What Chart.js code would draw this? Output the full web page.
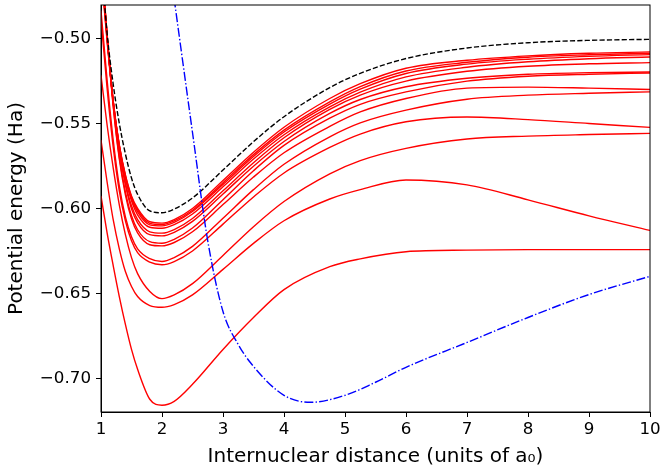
<!DOCTYPE html>
<html>
<head>
<meta charset="utf-8">
<script src="https://cdn.jsdelivr.net/npm/chart.js@4.4.0/dist/chart.umd.min.js"></script>
<style>
  html, body { margin: 0; padding: 0; background: #fff; }
  canvas { display: block; }
</style>
</head>
<body>
<canvas id="myChart" width="661" height="474"></canvas>
<script>
// internuclear distance grid (a0) shared by the curves
const rValues = [1.0, 1.1, 1.2, 1.3, 1.4, 1.5, 1.6, 1.8, 2.0, 2.2, 2.5, 3.0, 3.5, 4.0, 4.75, 5.25, 6.0, 7.0, 8.0, 9.0, 10.0];

// black dashed curve
const exact = [-0.4518, -0.4970, -0.5270, -0.5500, -0.5680, -0.5822, -0.5918, -0.6015, -0.6026, -0.6004, -0.5939, -0.5775, -0.5608, -0.5461, -0.5290, -0.5206, -0.5119, -0.5057, -0.5026, -0.5012, -0.5006];

// red curves, top to bottom
const approx1 = [-0.4601, -0.5018, -0.5375, -0.5628, -0.5804, -0.5927, -0.6000, -0.6079, -0.6087, -0.6066, -0.6001, -0.5836, -0.5670, -0.5523, -0.5354, -0.5267, -0.5176, -0.5129, -0.5103, -0.5088, -0.5080];
const approx2 = [-0.4584, -0.5006, -0.5370, -0.5628, -0.5806, -0.5933, -0.6009, -0.6088, -0.6096, -0.6074, -0.6011, -0.5849, -0.5684, -0.5540, -0.5374, -0.5284, -0.5192, -0.5141, -0.5111, -0.5097, -0.5088];
const approx3 = [-0.4566, -0.5000, -0.5370, -0.5633, -0.5815, -0.5944, -0.6021, -0.6097, -0.6103, -0.6083, -0.6019, -0.5859, -0.5695, -0.5551, -0.5387, -0.5299, -0.5207, -0.5152, -0.5123, -0.5106, -0.5096];
const approx4 = [-0.4554, -0.4994, -0.5370, -0.5639, -0.5827, -0.5956, -0.6038, -0.6111, -0.6117, -0.6096, -0.6033, -0.5873, -0.5710, -0.5567, -0.5403, -0.5317, -0.5227, -0.5170, -0.5138, -0.5120, -0.5110];
const approx5 = [-0.4543, -0.4988, -0.5375, -0.5657, -0.5850, -0.5985, -0.6067, -0.6138, -0.6146, -0.6125, -0.6060, -0.5897, -0.5732, -0.5585, -0.5418, -0.5334, -0.5252, -0.5194, -0.5164, -0.5150, -0.5143];
const approx6 = [-0.4531, -0.4982, -0.5375, -0.5663, -0.5862, -0.6003, -0.6085, -0.6155, -0.6162, -0.6141, -0.6077, -0.5916, -0.5752, -0.5607, -0.5442, -0.5360, -0.5285, -0.5235, -0.5211, -0.5202, -0.5198];
const approx7 = [-0.4519, -0.4982, -0.5393, -0.5698, -0.5903, -0.6044, -0.6126, -0.6196, -0.6205, -0.6182, -0.6116, -0.5949, -0.5779, -0.5630, -0.5470, -0.5388, -0.5315, -0.5252, -0.5223, -0.5211, -0.5204];
const approx8 = [-0.4507, -0.4977, -0.5399, -0.5710, -0.5921, -0.6062, -0.6144, -0.6214, -0.6221, -0.6201, -0.6138, -0.5978, -0.5816, -0.5673, -0.5518, -0.5433, -0.5354, -0.5293, -0.5287, -0.5293, -0.5301];
const approx9 = [-0.4836, -0.5246, -0.5598, -0.5868, -0.6050, -0.6167, -0.6238, -0.6296, -0.6313, -0.6290, -0.6224, -0.6058, -0.5890, -0.5741, -0.5579, -0.5497, -0.5422, -0.5358, -0.5334, -0.5323, -0.5315];
const approx10 = [-0.4883, -0.5293, -0.5639, -0.5897, -0.6073, -0.6191, -0.6261, -0.6317, -0.6332, -0.6313, -0.6251, -0.6093, -0.5933, -0.5792, -0.5642, -0.5563, -0.5491, -0.5463, -0.5478, -0.5501, -0.5524];
const approx11 = [-0.5217, -0.5510, -0.5762, -0.5979, -0.6155, -0.6290, -0.6384, -0.6489, -0.6531, -0.6509, -0.6443, -0.6277, -0.6108, -0.5960, -0.5797, -0.5719, -0.5647, -0.5592, -0.5575, -0.5566, -0.5559];
const approx12 = [-0.5598, -0.5845, -0.6067, -0.6238, -0.6372, -0.6460, -0.6519, -0.6572, -0.6582, -0.6566, -0.6509, -0.6359, -0.6206, -0.6073, -0.5945, -0.5890, -0.5833, -0.5862, -0.5950, -0.6044, -0.6130];
const approx13 = [-0.5927, -0.6144, -0.6337, -0.6519, -0.6683, -0.6830, -0.6947, -0.7123, -0.7158, -0.7135, -0.7035, -0.6830, -0.6642, -0.6478, -0.6343, -0.6297, -0.6255, -0.6246, -0.6243, -0.6243, -0.6243];

// blue dash-dot curve, own grid
const blueR = [2.1, 2.5, 2.75, 3.0, 3.25, 3.5, 4.0, 4.43, 5.0, 5.5, 6.0, 7.0, 8.0, 9.0, 10.0];
const blueE = [-0.4507, -0.5554, -0.6191, -0.6607, -0.6801, -0.6930, -0.7100, -0.7141, -0.7100, -0.7023, -0.6935, -0.6789, -0.6642, -0.6507, -0.6400];

const xTicks = [1, 2, 3, 4, 5, 6, 7, 8, 9, 10];
const yTicks = [-0.70, -0.65, -0.60, -0.55, -0.50];

const redCurves = [approx1, approx2, approx3, approx4, approx5, approx6, approx7,
                   approx8, approx9, approx10, approx11, approx12, approx13];

const toPoints = (xs, ys) => xs.map((x, i) => ({ x: x, y: ys[i] }));

const lineBase = {
    pointRadius: 0,
    borderWidth: 1.4,
    fill: false,
    cubicInterpolationMode: 'monotone'
};

const datasets = [
    Object.assign({}, lineBase, {
        data: toPoints(blueR, blueE),
        borderColor: '#0000ff',
        borderDash: [9, 2.2, 1.4, 2.2]
    }),
    Object.assign({}, lineBase, {
        data: toPoints(rValues, exact),
        borderColor: '#000000',
        borderDash: [5.2, 2.2]
    })
];
redCurves.forEach(vals => {
    datasets.push(Object.assign({}, lineBase, {
        data: toPoints(rValues, vals),
        borderColor: '#ff0000'
    }));
});

// top and right spines
const frame = {
    id: 'frame',
    afterDraw(chart) {
        const { ctx, chartArea } = chart;
        ctx.save();
        ctx.strokeStyle = '#000';
        ctx.lineWidth = 1;
        ctx.strokeRect(chartArea.left, chartArea.top, chartArea.right - chartArea.left, chartArea.bottom - chartArea.top);
        ctx.restore();
    }
};

const tickFont = { family: 'DejaVu Sans', size: 16.7 };
const titleFont = { family: 'DejaVu Sans', size: 20 };

new Chart(document.getElementById('myChart').getContext('2d'), {
    type: 'line',
    data: { datasets: datasets },
    plugins: [frame],
    options: {
        responsive: false,
        animation: false,
        devicePixelRatio: 1,
        layout: { padding: { left: 0, top: 5, right: 11, bottom: 0 } },
        plugins: {
            legend: { display: false },
            tooltip: { enabled: false }
        },
        scales: {
            x: {
                type: 'linear',
                min: 1,
                max: 10,
                afterBuildTicks: (scale) => { scale.ticks = xTicks.map(v => ({ value: v })); },
                afterFit: (scale) => { scale.height = 62; scale.paddingLeft = 0; scale.paddingRight = 0; },
                grid: { display: true, drawOnChartArea: false, drawTicks: true, tickLength: 5, color: '#000', lineWidth: 1 },
                border: { display: true, color: '#000', width: 1 },
                ticks: { color: '#000', font: tickFont, padding: 3, maxRotation: 0, autoSkip: false },
                title: {
                    display: true,
                    text: 'Internuclear distance (units of a\u2080)',
                    color: '#000',
                    font: titleFont,
                    padding: { top: 0, bottom: 5 }
                }
            },
            y: {
                type: 'linear',
                min: -0.7198,
                max: -0.4804,
                afterBuildTicks: (scale) => { scale.ticks = yTicks.map(v => ({ value: v })); },
                afterFit: (scale) => { scale.width = 101; scale.paddingTop = 0; scale.paddingBottom = 0; },
                grid: { display: true, drawOnChartArea: false, drawTicks: true, tickLength: 5, color: '#000', lineWidth: 1 },
                border: { display: true, color: '#000', width: 1 },
                ticks: {
                    color: '#000',
                    font: tickFont,
                    padding: 5,
                    callback: (v) => (v < 0 ? '\u2212' : '') + Math.abs(v).toFixed(2)
                },
                title: {
                    display: true,
                    text: 'Potential energy (Ha)',
                    color: '#000',
                    font: titleFont,
                    padding: { top: 5, bottom: 0 }
                }
            }
        }
    }
});
</script>
</body>
</html>
